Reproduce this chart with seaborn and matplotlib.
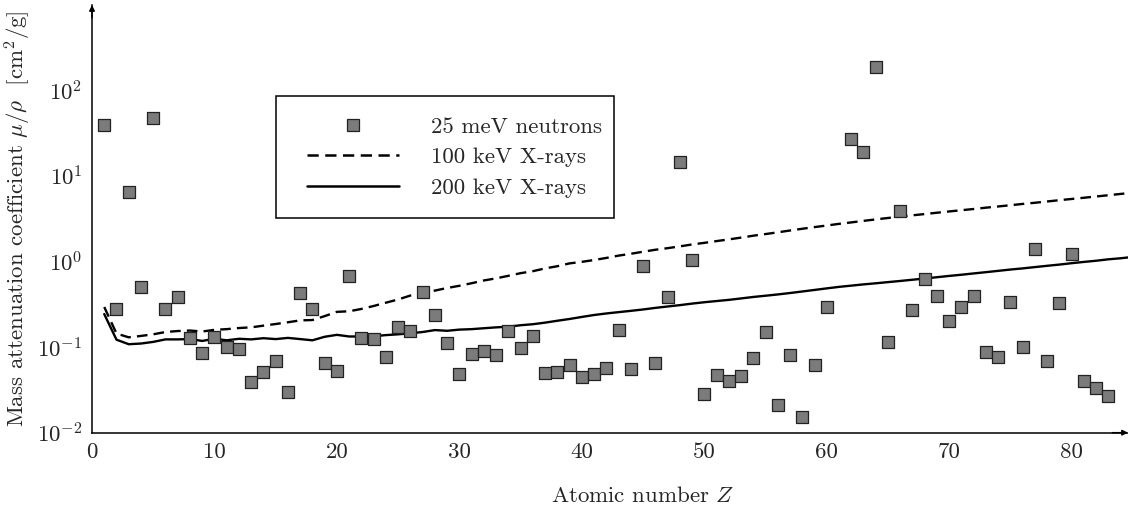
import numpy as np
import pandas as pd
import matplotlib
matplotlib.use("Agg")
import matplotlib.pyplot as plt
from matplotlib.lines import Line2D
from matplotlib.patches import Rectangle
import seaborn as sns

# ---------------- data ----------------
z_neutron = [1, 2, 3, 4, 5, 6, 7, 8, 9, 10, 11, 12, 13, 14, 15, 16, 17, 18, 19, 20,
             21, 22, 23, 24, 25, 26, 27, 28, 29, 30, 31, 32, 33, 34, 35, 36, 37, 38, 39, 40,
             41, 42, 43, 44, 45, 46, 47, 48, 49, 50, 51, 52, 53, 54, 55, 56, 57, 58, 59, 60,
             62, 63, 64, 65, 66, 67, 68, 69, 70, 71, 72, 73, 74, 75, 76, 77, 78, 79, 80,
             81, 82, 83]
mu_neutron = [39, 0.28, 6.4, 0.51, 48, 0.28, 0.38, 0.127, 0.086, 0.13,
              0.10, 0.095, 0.039, 0.051, 0.069, 0.030, 0.43, 0.28, 0.065, 0.053,
              0.68, 0.127, 0.123, 0.077, 0.17, 0.156, 0.44, 0.24, 0.112, 0.049,
              0.084, 0.091, 0.081, 0.154, 0.097, 0.136, 0.050, 0.051, 0.061, 0.045,
              0.049, 0.057, 0.16, 0.055, 0.88, 0.065, 0.38, 14.7, 1.04, 0.028,
              0.047, 0.040, 0.046, 0.075, 0.15, 0.021, 0.081, 0.0154, 0.061, 0.29,
              27, 19, 189, 0.116, 3.9, 0.27, 0.62, 0.40, 0.20, 0.29,
              0.39, 0.088, 0.077, 0.34, 0.10, 1.4, 0.069, 0.33, 1.22,
              0.040, 0.033, 0.027]

z_xray = list(range(1, 87))
mu_100kev = [0.294, 0.144, 0.130, 0.135, 0.141, 0.150, 0.154, 0.156, 0.152, 0.159,
             0.162, 0.167, 0.170, 0.178, 0.186, 0.195, 0.205, 0.207, 0.230, 0.258,
             0.262, 0.279, 0.302, 0.33, 0.36, 0.40, 0.425, 0.457, 0.49, 0.52,
             0.557, 0.60, 0.635, 0.68, 0.73, 0.77, 0.83, 0.88, 0.95, 0.99,
             1.04, 1.10, 1.17, 1.23, 1.30, 1.37, 1.43, 1.50, 1.58, 1.65,
             1.73, 1.81, 1.90, 2.00, 2.09, 2.19, 2.30, 2.41, 2.52, 2.63,
             2.75, 2.86, 2.98, 3.10, 3.22, 3.34, 3.46, 3.58, 3.71, 3.84,
             3.97, 4.10, 4.25, 4.39, 4.54, 4.70, 4.85, 5.02, 5.20, 5.37,
             5.55, 5.74, 5.94, 6.15, 6.35, 6.55]
mu_200kev = [0.243, 0.122, 0.108, 0.110, 0.115, 0.123, 0.123, 0.124, 0.118, 0.125,
             0.120, 0.125, 0.123, 0.127, 0.124, 0.128, 0.124, 0.120, 0.132, 0.139,
             0.133, 0.133, 0.134, 0.138, 0.141, 0.145, 0.150, 0.158, 0.155, 0.160,
             0.162, 0.166, 0.170, 0.173, 0.180, 0.185, 0.193, 0.203, 0.213, 0.225,
             0.237, 0.247, 0.256, 0.265, 0.275, 0.287, 0.298, 0.309, 0.322, 0.334,
             0.345, 0.356, 0.370, 0.385, 0.398, 0.412, 0.428, 0.446, 0.465, 0.485,
             0.505, 0.522, 0.540, 0.556, 0.574, 0.592, 0.612, 0.632, 0.655, 0.678,
             0.700, 0.725, 0.750, 0.777, 0.805, 0.830, 0.860, 0.890, 0.920, 0.955,
             0.988, 1.02, 1.06, 1.09, 1.13, 1.17]

x_ticks = [0, 10, 20, 30, 40, 50, 60, 70, 80]
y_ticks = [1e-2, 1e-1, 1e0, 1e1, 1e2]
label_neutron = "25 meV neutrons"
label_100 = "100 keV X-rays"
label_200 = "200 keV X-rays"

# ---------------- style ----------------
sns.set_style("white")
plt.rcParams["font.family"] = ["cmr10"]
plt.rcParams["mathtext.fontset"] = "cm"
plt.rcParams["axes.formatter.use_mathtext"] = True
plt.rcParams["axes.unicode_minus"] = True
FS = 16.5
W, H = 1128, 508

fig = plt.figure(figsize=(11.28, 5.08), dpi=100)
ax = fig.add_axes([92 / W, 1 - 432.7 / H, (W - 92) / W, (432.7 - 5) / H])

df_n = pd.DataFrame({"Z": z_neutron, "mu": mu_neutron})
df_x = pd.DataFrame({"Z": z_xray, "mu100": mu_100kev, "mu200": mu_200kev})

DASH = (0, (4.5, 2.6))
sns.lineplot(data=df_x, x="Z", y="mu100", ax=ax, color="black", lw=1.7,
             linestyle=DASH, zorder=2)
sns.lineplot(data=df_x, x="Z", y="mu200", ax=ax, color="black", lw=1.7,
             linestyle="-", zorder=2)
sns.scatterplot(data=df_n, x="Z", y="mu", ax=ax, marker="s", s=76,
                color="#7b7b7b", edgecolor="#222222", linewidth=0.9, zorder=3)

ax.set_yscale("log")
ax.set_xlim(0, 84.6)
ax.set_ylim(1e-2, 990)
ax.set_xticks(x_ticks)
ax.set_xticklabels([str(t) for t in x_ticks])
ax.set_yticks(y_ticks)
ax.set_yticklabels([r"$10^{%d}$" % int(np.log10(t)) for t in y_ticks])
ax.yaxis.set_minor_locator(matplotlib.ticker.LogLocator(base=10, subs=np.arange(2, 10), numticks=20))
ax.yaxis.set_minor_formatter(matplotlib.ticker.NullFormatter())

ax.tick_params(axis="x", which="major", direction="in", length=7, width=0.7,
               color="#333333", labelsize=FS, pad=7)
ax.tick_params(axis="y", which="major", direction="in", length=8, width=1.1,
               color="black", labelsize=FS, pad=7)
ax.tick_params(axis="y", which="minor", direction="in", length=6.5, width=0.8,
               color="#a0a0a0")
ax.tick_params(axis="x", which="minor", bottom=False)

for s in ["top", "right"]:
    ax.spines[s].set_visible(False)
for s in ["left", "bottom"]:
    ax.spines[s].set_color("black")
    ax.spines[s].set_linewidth(1.1)

ax.annotate("", xy=(1.0, 0), xytext=(0.985, 0), xycoords="axes fraction",
            arrowprops=dict(arrowstyle="-|>", lw=1.1, color="black",
                            mutation_scale=8, shrinkA=0, shrinkB=0))
ax.annotate("", xy=(0, 1.0), xytext=(0, 0.97), xycoords="axes fraction",
            arrowprops=dict(arrowstyle="-|>", lw=1.1, color="black",
                            mutation_scale=8, shrinkA=0, shrinkB=0))

ax.set_xlabel(r"Atomic number $Z$", fontsize=FS)
ax.xaxis.set_label_coords((643 - 92) / 1036, -0.125)
ax.set_ylabel(r"Mass attenuation coefficient $\mu/\rho$  [cm$^2$/g]", fontsize=FS)
ax.yaxis.set_label_coords((33 - 92) / 1036, 0.5)

# legend (frame drawn separately for exact padding)
handles = [
    Line2D([], [], marker="s", linestyle="none", markersize=8.8,
           markerfacecolor="#7b7b7b", markeredgecolor="#222222", markeredgewidth=0.9),
    Line2D([], [], color="black", lw=1.8, linestyle=DASH),
    Line2D([], [], color="black", lw=1.8, linestyle="-"),
]
leg = ax.legend(handles, [label_neutron, label_100, label_200],
                loc="upper left",
                bbox_to_anchor=(307 / W, 1 - 116.5 / H), bbox_transform=fig.transFigure,
                borderaxespad=0, borderpad=0, fontsize=FS, frameon=False,
                handlelength=4.0, handletextpad=1.4, labelspacing=0.46)
frame = Rectangle((276 / W, 1 - 218 / H), (614 - 276) / W, (218 - 96) / H,
                  transform=fig.transFigure, fill=True, facecolor="white",
                  edgecolor="black", lw=1.1, zorder=4)
ax.add_artist(frame)
frame.set_clip_on(False)
leg.set_zorder(5)

fig.savefig("out.png", dpi=100)
